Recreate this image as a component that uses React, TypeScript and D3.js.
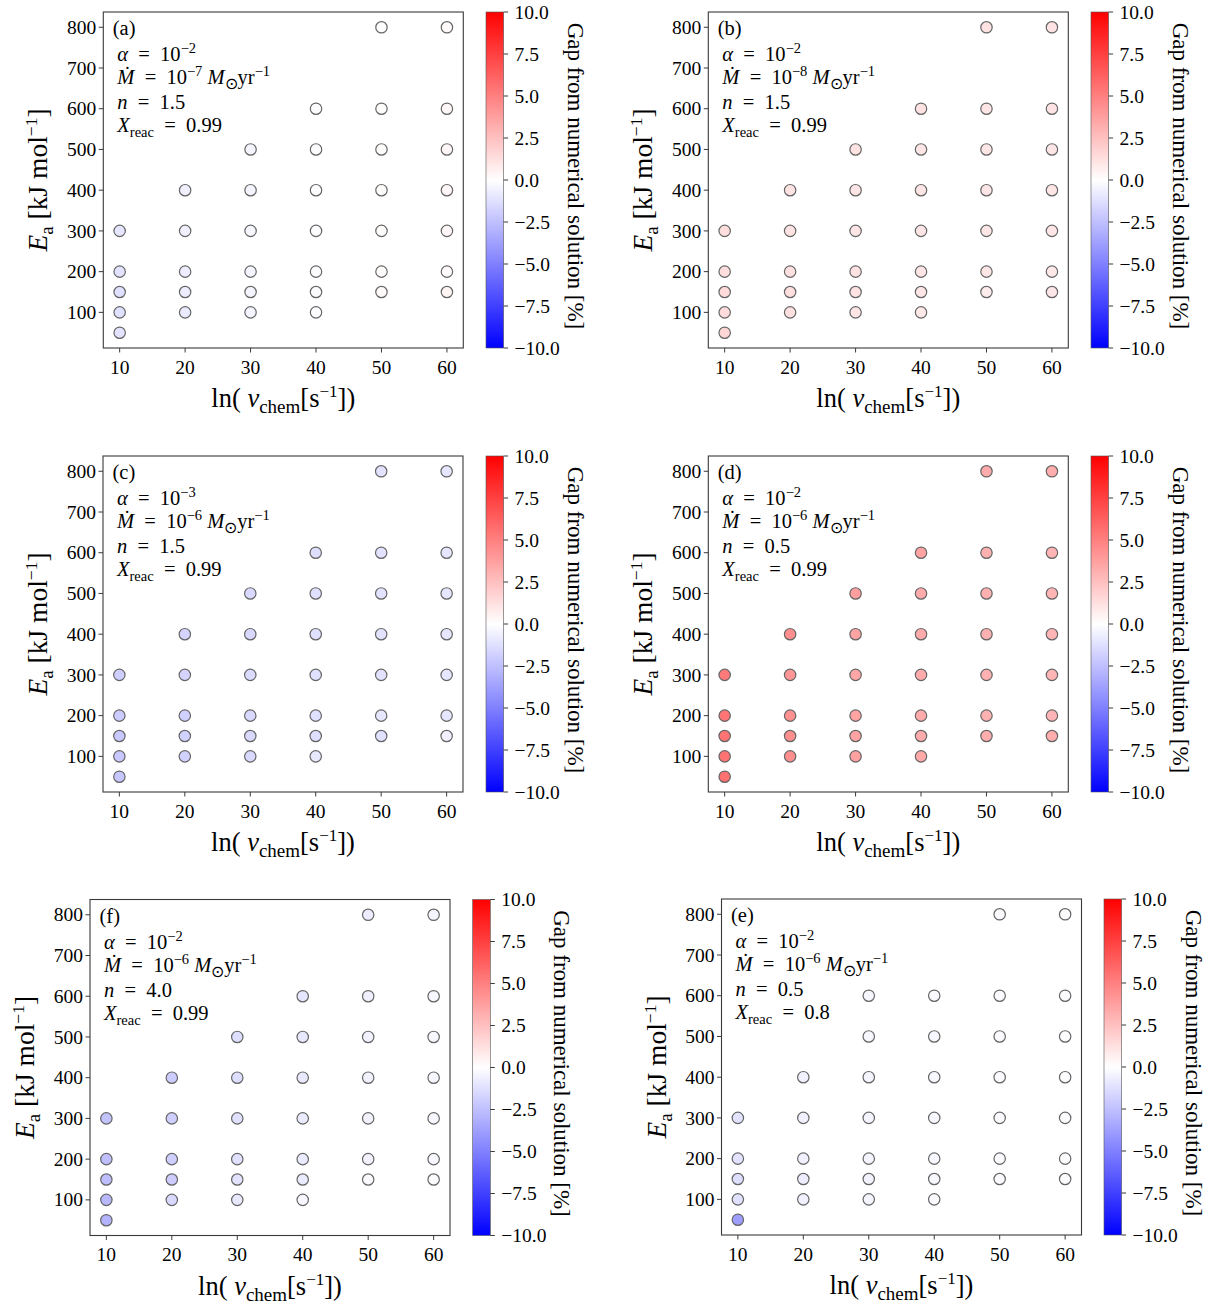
import React from "react";
import * as d3 from "d3";

// ---------- data ----------
const nuTicks = [10, 20, 30, 40, 50, 60];
const eaTicks = [100, 200, 300, 400, 500, 600, 700, 800];
const cbTicks = [-10, -7.5, -5, -2.5, 0, 2.5, 5, 7.5, 10];

const nuColumns = [10, 20, 30, 40, 50, 60];
const eaColumnsStd = [
  [50, 100, 150, 200, 300],
  [100, 150, 200, 300, 400],
  [100, 150, 200, 300, 400, 500],
  [100, 150, 200, 300, 400, 500, 600],
  [150, 200, 300, 400, 500, 600, 800],
  [150, 200, 300, 400, 500, 600, 800],
];
const eaColumnsE = [
  [50, 100, 150, 200, 300],
  [100, 150, 200, 300, 400],
  [100, 150, 200, 300, 400, 500, 600],
  [100, 150, 200, 300, 400, 500, 600],
  [150, 200, 300, 400, 500, 600, 800],
  [150, 200, 300, 400, 500, 600, 800],
];

const gapA = [
  [-1.1, -1.2, -1.2, -1.1, -1.0],
  [-0.8, -0.7, -0.7, -0.6, -0.6],
  [-0.4, -0.4, -0.4, -0.3, -0.4, -0.4],
  [-0.1, -0.1, -0.1, -0.1, -0.1, -0.1, -0.1],
  [0.2, 0.1, 0.1, 0.1, 0.1, 0.1, 0.0],
  [0.4, 0.2, 0.3, 0.3, 0.3, 0.3, 0.2],
];
const gapB = [
  [1.6, 1.4, 1.4, 1.3, 1.3],
  [1.2, 1.3, 1.2, 1.1, 1.1],
  [1.0, 1.1, 1.1, 1.0, 1.0, 1.1],
  [0.9, 1.0, 1.0, 1.0, 1.0, 1.0, 1.1],
  [0.7, 1.0, 1.0, 1.0, 1.0, 1.0, 1.1],
  [1.0, 0.9, 1.0, 1.0, 1.0, 1.1, 1.1],
];
const gapC = [
  [-2.2, -2.1, -2.1, -2.0, -1.9],
  [-1.8, -1.8, -1.8, -1.7, -1.7],
  [-1.5, -1.5, -1.5, -1.4, -1.5, -1.5],
  [-0.9, -1.3, -1.2, -1.2, -1.2, -1.2, -1.3],
  [-1.2, -1.0, -1.1, -1.1, -1.1, -1.1, -1.1],
  [-0.6, -1.0, -1.0, -1.0, -1.0, -1.0, -1.0],
];
const gapD = [
  [5.6, 5.5, 5.5, 5.4, 5.2],
  [4.4, 4.4, 4.3, 4.1, 4.4],
  [3.7, 3.6, 3.6, 3.5, 3.6, 3.8],
  [3.4, 3.3, 3.3, 3.3, 3.3, 3.3, 3.6],
  [3.2, 3.1, 3.1, 3.1, 3.1, 3.1, 3.3],
  [3.2, 2.9, 2.9, 2.9, 2.9, 2.9, 3.2],
];
const gapF = [
  [-3.0, -2.8, -2.6, -2.5, -2.4],
  [-1.5, -2.0, -1.9, -1.9, -2.0],
  [-0.9, -1.1, -1.2, -1.2, -1.3, -1.3],
  [-0.3, -0.8, -0.8, -0.8, -0.9, -0.9, -1.0],
  [-0.2, -0.5, -0.5, -0.5, -0.5, -0.6, -0.7],
  [-0.1, -0.3, -0.3, -0.3, -0.3, -0.3, -0.4],
];
const gapE = [
  [-3.8, -1.2, -1.3, -1.1, -1.1],
  [-0.6, -0.7, -0.6, -0.6, -0.6],
  [-0.4, -0.5, -0.4, -0.4, -0.4, -0.3, -0.3],
  [-0.2, -0.3, -0.3, -0.3, -0.3, -0.3, -0.2],
  [-0.2, -0.2, -0.2, -0.2, -0.2, -0.2, -0.2],
  [-0.1, -0.1, -0.1, -0.1, -0.1, -0.1, -0.1],
];

const panelLabels = ["(a)", "(b)", "(c)", "(d)", "(f)", "(e)"];
const alphaExp = ["−2", "−2", "−3", "−2", "−2", "−2"];
const mdotExp = ["−7", "−8", "−6", "−6", "−6", "−6"];
const nValues = ["1.5", "1.5", "1.5", "0.5", "4.0", "0.5"];
const xreacValues = ["0.99", "0.99", "0.99", "0.99", "0.99", "0.8"];

// ---------- layout ----------
const AX_W = 360;
const AX_H = 336;
const CB_W = 17.6;
const layout = [
  { x0: 103.3, y0: 12, cbx: 486, eas: eaColumnsStd, gaps: gapA },
  { x0: 708.3, y0: 12, cbx: 1091, eas: eaColumnsStd, gaps: gapB },
  { x0: 103, y0: 456, cbx: 486, eas: eaColumnsStd, gaps: gapC },
  { x0: 708.3, y0: 456, cbx: 1091, eas: eaColumnsStd, gaps: gapD },
  { x0: 90, y0: 899.5, cbx: 472.7, eas: eaColumnsStd, gaps: gapF },
  { x0: 721.5, y0: 899, cbx: 1104, eas: eaColumnsE, gaps: gapE },
];

const FONT = "'Liberation Serif', 'Times New Roman', serif";
const color = d3
  .scaleLinear<string>()
  .domain([-10, 0, 10])
  .range(["#0000ff", "#ffffff", "#ff0000"])
  .interpolate(d3.interpolateRgb)
  .clamp(true);

type Seg = { t: string; it?: boolean; sh?: number; fs?: number };

function Rich({ x, y, segs, fs, anchor, transform }: { x: number; y: number; segs: Seg[]; fs: number; anchor?: string; transform?: string }) {
  let prev = 0;
  return (
    <text x={x} y={y} fontFamily={FONT} fontSize={fs} textAnchor={anchor || "start"} transform={transform} fill="#000">
      {segs.map((s, i) => {
        const sh = s.sh || 0;
        const dy = sh - prev;
        prev = sh;
        return (
          <tspan key={i} dy={dy} fontStyle={s.it ? "italic" : "normal"} fontSize={s.fs || fs} xmlSpace="preserve">
            {s.t}
          </tspan>
        );
      })}
    </text>
  );
}

const EQ = "\u2002=\u2002";

function Panel({ idx }: { idx: number }) {
  const L = layout[idx];
  const x = d3.scaleLinear().domain([7.5, 62.5]).range([L.x0, L.x0 + AX_W]);
  const y = d3.scaleLinear().domain([12.5, 837.5]).range([L.y0 + AX_H, L.y0]);
  const cb = d3.scaleLinear().domain([-10, 10]).range([L.y0 + AX_H, L.y0]);
  const gid = `grad${idx}`;
  const stops = d3.range(0, 1.0001, 0.05);
  const pts: { nu: number; ea: number; g: number }[] = [];
  nuColumns.forEach((nu, ci) => {
    L.eas[ci].forEach((ea, ri) => pts.push({ nu, ea, g: L.gaps[ci][ri] }));
  });
  const bottom = L.y0 + AX_H;
  const tx = L.x0 + 14;
  const ty = L.y0;
  const mfs = 20.5;
  const sfs = 14.5;
  const cbRight = L.cbx + CB_W;
  const TFS = 19.5;
  return (
    <g>
      <defs>
        <linearGradient id={gid} x1="0" y1="1" x2="0" y2="0">
          {stops.map((s) => (
            <stop key={s} offset={s} stopColor={color(-10 + 20 * s)} />
          ))}
        </linearGradient>
      </defs>
      <rect x={L.x0} y={L.y0} width={AX_W} height={AX_H} fill="#fff" stroke="#3a3a3a" strokeWidth={1.1} />
      {pts.map((p, i) => (
        <circle key={i} cx={x(p.nu)} cy={y(p.ea)} r={5.7} fill={color(p.g)} stroke="#656565" strokeWidth={1.2} />
      ))}
      {nuTicks.map((t) => (
        <g key={`x${t}`}>
          <line x1={x(t)} x2={x(t)} y1={bottom} y2={bottom + 4.5} stroke="#3a3a3a" strokeWidth={1} />
          <text x={x(t)} y={bottom + 25.5} textAnchor="middle" fontFamily={FONT} fontSize={TFS}>
            {t}
          </text>
        </g>
      ))}
      {eaTicks.map((t) => (
        <g key={`y${t}`}>
          <line x1={L.x0 - 4.5} x2={L.x0} y1={y(t)} y2={y(t)} stroke="#3a3a3a" strokeWidth={1} />
          <text x={L.x0 - 7} y={y(t) + 6.6} textAnchor="end" fontFamily={FONT} fontSize={TFS}>
            {t}
          </text>
        </g>
      ))}
      <Rich
        x={L.x0 + AX_W / 2}
        y={bottom + 59}
        fs={26.5}
        anchor="middle"
        segs={[
          { t: "ln( " },
          { t: "ν", it: true },
          { t: "chem", sh: 6, fs: 19 },
          { t: "[s" },
          { t: "−1", sh: -10, fs: 17 },
          { t: "])" },
        ]}
      />
      <Rich
        x={0}
        y={0}
        fs={27.5}
        anchor="middle"
        transform={`translate(${L.x0 - 56},${L.y0 + AX_H / 2}) rotate(-90)`}
        segs={[
          { t: "E", it: true },
          { t: "a", sh: 6, fs: 19 },
          { t: " [kJ mol" },
          { t: "−1", sh: -10, fs: 17.5 },
          { t: "]" },
        ]}
      />
      <text x={L.x0 + 9.5} y={ty + 23} fontFamily={FONT} fontSize={20.5}>
        {panelLabels[idx]}
      </text>
      <Rich
        x={tx}
        y={ty + 49}
        fs={mfs}
        segs={[{ t: "α", it: true }, { t: EQ + "10" }, { t: alphaExp[idx], sh: -8, fs: sfs }]}
      />
      <Rich
        x={tx}
        y={ty + 72}
        fs={mfs}
        segs={[
          { t: "Ṁ", it: true },
          { t: EQ + "10" },
          { t: mdotExp[idx], sh: -8, fs: sfs },
          { t: " " },
          { t: "M", it: true },
          { t: "⊙", sh: 5, fs: sfs + 1 },
          { t: "yr" },
          { t: "−1", sh: -8, fs: sfs },
        ]}
      />
      <Rich x={tx} y={ty + 97} fs={mfs} segs={[{ t: "n", it: true }, { t: `${EQ}${nValues[idx]}` }]} />
      <Rich
        x={tx}
        y={ty + 120}
        fs={mfs}
        segs={[{ t: "X", it: true }, { t: "reac", sh: 5, fs: sfs }, { t: `${EQ}${xreacValues[idx]}` }]}
      />
      <rect x={L.cbx} y={L.y0} width={CB_W} height={AX_H} fill={`url(#${gid})`} stroke="#555" strokeWidth={0.6} />
      {cbTicks.map((t) => (
        <g key={`c${t}`}>
          <line x1={cbRight} x2={cbRight + 4.5} y1={cb(t)} y2={cb(t)} stroke="#3a3a3a" strokeWidth={1} />
          <text x={cbRight + 11} y={cb(t) + 6.6} fontFamily={FONT} fontSize={TFS}>
            {(t < 0 ? "−" : "") + Math.abs(t).toFixed(1)}
          </text>
        </g>
      ))}
      <text
        transform={`translate(${cbRight + 64},${L.y0 + AX_H / 2 - 4}) rotate(90)`}
        textAnchor="middle"
        fontFamily={FONT}
        fontSize={23}
      >
        Gap from numerical solution [%]
      </text>
    </g>
  );
}

export default function App() {
  return (
    <svg
      width={1211}
      height={1306}
      style={{ position: "absolute", left: 0, top: 0, background: "#fff" }}
      xmlns="http://www.w3.org/2000/svg"
    >
      <rect x={0} y={0} width={1211} height={1306} fill="#fff" />
      {layout.map((_, i) => (
        <Panel key={i} idx={i} />
      ))}
    </svg>
  );
}
